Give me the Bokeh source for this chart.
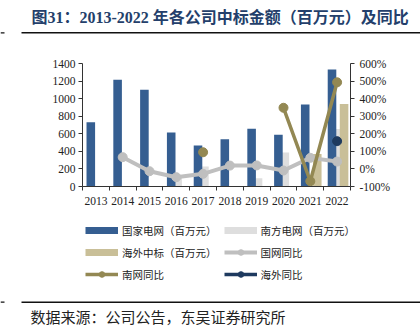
import numpy as np
from bokeh.plotting import figure
from bokeh.layouts import column
from bokeh.models import (Range1d, LinearAxis, FixedTicker, Legend, LegendItem,
                          ColumnDataSource)
from bokeh.core.properties import value
from bokeh.embed import file_html
from bokeh.resources import INLINE

nan = float("nan")

# ---- data ----
years = ["2013", "2014", "2015", "2016", "2017", "2018", "2019", "2020", "2021", "2022"]
state_grid = [731, 1214, 1100, 614, 466, 538, 656, 588, 933, 1331]      # 国家电网（百万元）
southern_grid = [0, 0, 0, 117, 228, 0, 95, 388, 115, 655]              # 南方电网（百万元）
overseas = [0, 0, 0, 0, 0, 0, 0, 0, 370, 940]                          # 海外中标（百万元）
state_yoy = [nan, 67, -13, -47, -28, 19, 20, -9, 63, 42]               # 国网同比 (%)
southern_yoy = [nan, nan, nan, nan, 95, nan, nan, 348, -70, 493]       # 南网同比 (%)
overseas_yoy = [nan, nan, nan, nan, nan, nan, nan, nan, nan, 158]      # 海外同比 (%)
left_ticks = [0, 200, 400, 600, 800, 1000, 1200, 1400]
right_ticks = [-100, 0, 100, 200, 300, 400, 500, 600]
title_text = "图31：2013-2022 年各公司中标金额（百万元）及同比"
source_text = "数据来源：公司公告，东吴证券研究所"
legend_labels = ["国家电网（百万元）", "南方电网（百万元）", "海外中标（百万元）",
                 "国网同比", "南网同比", "海外同比"]

# ---- styles ----
C_BLUE = "#355E91"
C_LGRAY = "#DEDEDE"
C_TAN = "#C9BF98"
C_GLINE = "#BFBFBF"
C_OLIVE = "#938853"
C_NAVY = "#1E3A5F"
AX = "#333333"
SERIF = "Liberation Serif"
CJK = "Noto Sans CJK SC"
W = 420


def blank(h):
    f = figure(width=W, height=h, output_backend="svg", toolbar_location=None,
               x_range=Range1d(0, W), y_range=Range1d(h, 0),
               min_border=0, min_border_left=0, min_border_right=0,
               min_border_top=0, min_border_bottom=0, frame_align=False)
    f.axis.visible = False
    f.grid.visible = False
    f.outline_line_color = None
    f.background_fill_color = "white"
    f.border_fill_color = "white"
    return f


# ---------------- header ----------------
H1 = 40
head = blank(H1)
head.text(x=[31], y=[16.5], text=[title_text], text_font=value(f"{SERIF}, {CJK}"),
          text_font_style="bold", text_font_size="16px", text_color="#243F6B",
          text_baseline="middle", text_align="left")
head.segment(x0=[21], y0=[32.3], x1=[W], y1=[32.3], line_color="#111111", line_width=1.6)
head.segment(x0=[0], y0=[32.3], x1=[4], y1=[32.3], line_color="#111111", line_width=1.2)

# ---------------- main chart ----------------
n = len(years)
centers = np.arange(n) + 0.5
BW = 0.32

src = ColumnDataSource(dict(
    x=centers, sg=state_grid, so=southern_grid, ov=overseas,
    gy=state_yoy, sy=southern_yoy, oy=overseas_yoy,
    x_blue=centers - 0.19, x_gray=centers + 0.05, x_tan=centers + 0.26,
))

H2 = 170
p = figure(width=W, height=H2, output_backend="svg", toolbar_location=None,
           x_range=Range1d(0, n), y_range=Range1d(0, 1400), frame_align=False,
           min_border_left=82, min_border_right=70, min_border_top=23, min_border_bottom=24)
p.extra_y_ranges = {"pct": Range1d(-100, 600)}
p.outline_line_color = None
p.xgrid.visible = False
p.ygrid.visible = False
p.background_fill_color = "white"
p.border_fill_color = "white"

p.vbar(x="x_gray", top="so", width=BW, source=src, fill_color=C_LGRAY, line_color=None)
p.vbar(x="x_blue", top="sg", width=BW, source=src, fill_color=C_BLUE, line_color=None)
p.vbar(x="x_tan", top="ov", width=BW, source=src, fill_color=C_TAN, line_color=None)

p.line("x", "gy", source=src, line_color=C_GLINE, line_width=4, y_range_name="pct")
p.scatter("x", "gy", source=src, size=9, fill_color=C_GLINE, line_color=C_GLINE, y_range_name="pct")
p.line("x", "sy", source=src, line_color=C_OLIVE, line_width=3.5, y_range_name="pct")
p.scatter("x", "sy", source=src, size=9, fill_color=C_OLIVE, line_color=C_OLIVE, y_range_name="pct")
p.line("x", "oy", source=src, line_color=C_NAVY, line_width=3.5, y_range_name="pct")
p.scatter("x", "oy", source=src, size=9, fill_color=C_NAVY, line_color=C_NAVY, y_range_name="pct")

xa = p.xaxis[0]
xa.ticker = FixedTicker(ticks=list(centers), minor_ticks=list(range(n + 1)))
xa.major_label_overrides = {float(c): y for c, y in zip(centers, years)}
xa.major_tick_line_color = None
xa.major_tick_out = 0
xa.major_tick_in = 0
xa.minor_tick_out = 4
xa.minor_tick_in = 0
xa.minor_tick_line_color = AX
xa.axis_line_color = AX
xa.major_label_standoff = 6
xa.major_label_text_font = SERIF
xa.major_label_text_font_size = "11.5px"
xa.major_label_text_color = "#222222"

ya = p.yaxis[0]
ya.ticker = FixedTicker(ticks=left_ticks)
ya.minor_tick_line_color = None
ya.major_tick_out = 4
ya.major_tick_in = 0
ya.major_tick_line_color = AX
ya.axis_line_color = AX
ya.major_label_standoff = 3
ya.major_label_text_font = SERIF
ya.major_label_text_font_size = "11.5px"
ya.major_label_text_color = "#222222"

ra = LinearAxis(y_range_name="pct", ticker=FixedTicker(ticks=right_ticks))
ra.major_label_overrides = {t: f"{t}%" for t in right_ticks}
ra.minor_tick_line_color = None
ra.major_tick_out = 4
ra.major_tick_in = 0
ra.major_tick_line_color = AX
ra.axis_line_color = AX
ra.major_label_standoff = 5
ra.major_label_text_font = SERIF
ra.major_label_text_font_size = "11.5px"
ra.major_label_text_color = "#222222"
p.add_layout(ra, "right")

# ---------------- footer: legend + source ----------------
H3 = 332 - H1 - H2
foot = blank(H3)
# legend-only renderers: one NaN point each, so nothing is drawn in the plot area
lb = foot.line([nan], [nan], line_color=C_BLUE, line_width=7)
lg = foot.line([nan], [nan], line_color=C_LGRAY, line_width=7)
lt = foot.line([nan], [nan], line_color=C_TAN, line_width=7)
g1 = foot.line([nan], [nan], line_color=C_GLINE, line_width=4)
g2 = foot.scatter([nan], [nan], size=9, fill_color=C_GLINE, line_color=C_GLINE)
o1 = foot.line([nan], [nan], line_color=C_OLIVE, line_width=3.5)
o2 = foot.scatter([nan], [nan], size=9, fill_color=C_OLIVE, line_color=C_OLIVE)
n1 = foot.line([nan], [nan], line_color=C_NAVY, line_width=3.5)
n2 = foot.scatter([nan], [nan], size=9, fill_color=C_NAVY, line_color=C_NAVY)
rends = [[lb], [lg], [lt], [g1, g2], [o1, o2], [n1, n2]]
items = [LegendItem(label=lab, renderers=r) for lab, r in zip(legend_labels, rends)]
leg = Legend(items=items, orientation="horizontal", ncols=2, location=(85, H3 - 71.5),
             padding=0, margin=0, spacing=7, glyph_width=33, glyph_height=14,
             label_height=14, label_standoff=4, border_line_color=None,
             background_fill_alpha=0, label_text_font=CJK,
             label_text_font_size="10.5px", label_text_color="#222222")
foot.add_layout(leg, "center")

foot.segment(x0=[21], y0=[91.7], x1=[W], y1=[91.7], line_color="#111111", line_width=1.6)
foot.segment(x0=[0], y0=[91.7], x1=[4], y1=[91.7], line_color="#111111", line_width=1.2)
foot.text(x=[30], y=[106], text=[source_text], text_font=value(CJK),
          text_font_size="15px", text_color="#222222", text_baseline="middle",
          text_align="left")

layout = column(head, p, foot, spacing=0)
open("out.html", "w").write(file_html(layout, INLINE))
